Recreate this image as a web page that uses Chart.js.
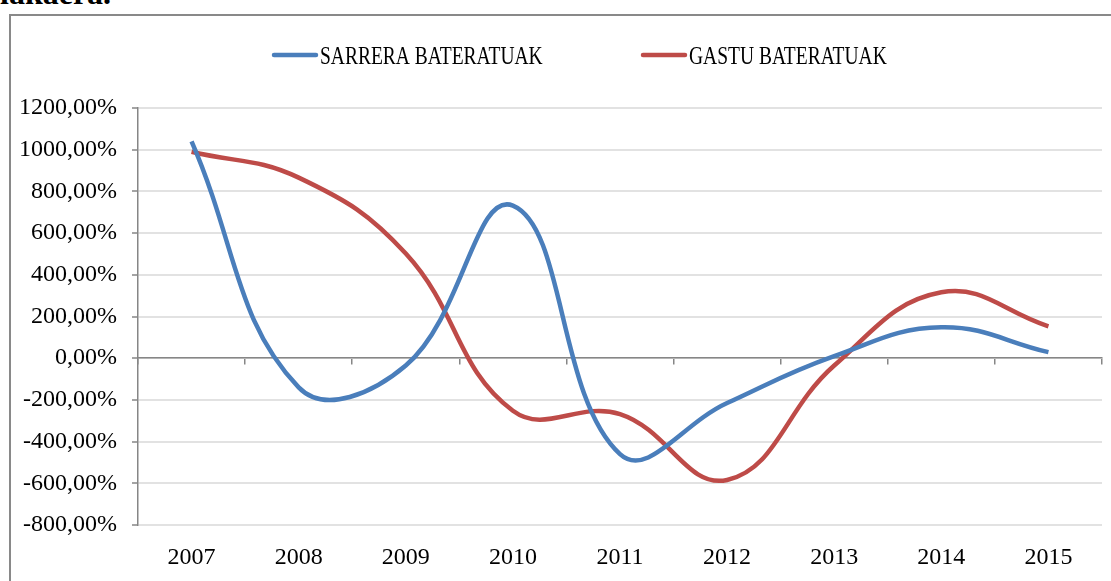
<!DOCTYPE html>
<html>
<head>
<meta charset="utf-8">
<script src="https://cdn.jsdelivr.net/npm/chart.js@4/dist/chart.umd.min.js"></script>
<style>
  html, body { margin: 0; padding: 0; background: #fff; overflow: hidden; }
  #wrap { position: relative; width: 1111px; height: 581px; }
  #above { position: absolute; left: 0; top: -23px; font: bold 32px/32px "Liberation Serif", serif; color: #000; }
  #frame { position: absolute; left: 9px; top: 14px; width: 1300px; height: 800px; border: 2px solid #898989; }
  #canvas { position: absolute; left: 0; top: 0; }
</style>
</head>
<body>
<div id="wrap">
  <div id="above">lakaera.</div>
  <div id="frame"></div>
  <canvas id="canvas" width="1111" height="581"></canvas>
</div>
<script>
// urteak eta serieak
var years = ['2007', '2008', '2009', '2010', '2011', '2012', '2013', '2014', '2015'];
var sarrera = [1040, -140, -35, 732, -460, -215, 10, 148, 29];
var gastu = [990, 866, 502, -252, -268, -584, -35, 316, 153];
var seriesNames = ['SARRERA BATERATUAK', 'GASTU BATERATUAK'];
var yTickValues = [-800, -600, -400, -200, 0, 200, 400, 600, 800, 1000, 1200];

var blue = '#4a7ebb';
var red = '#be4b48';
var tickFont = { family: 'Liberation Serif', size: 24 };

// legenda goian, eskuz marraztua
var topLegend = {
	id: 'topLegend',
	afterDraw: function(chart) {
		var ctx = chart.ctx;
		var starts = [272, 641];
		ctx.save();
		chart.data.datasets.forEach(function(ds, i) {
			var x = starts[i];
			ctx.strokeStyle = ds.borderColor;
			ctx.lineWidth = 4.5;
			ctx.lineCap = 'round';
			ctx.beginPath();
			ctx.moveTo(x + 2, 55);
			ctx.lineTo(x + 44, 55);
			ctx.stroke();

			ctx.save();
			ctx.translate(x + 48, 64);
			ctx.scale(0.75, 1);
			ctx.fillStyle = '#000';
			ctx.font = '26px "Liberation Serif"';
			ctx.textBaseline = 'alphabetic';
			ctx.fillText(ds.label, 0, 0);
			ctx.restore();
		});
		ctx.restore();
	}
};

var ctx = document.getElementById('canvas').getContext('2d');

var chart = new Chart(ctx, {
	type: 'line',
	data: {
		labels: years,
		datasets: [
			{
				label: seriesNames[0],
				data: sarrera,
				borderColor: blue,
				backgroundColor: blue,
				borderWidth: 4.5,
				pointRadius: 0,
				tension: 0.42,
				fill: false
			},
			{
				label: seriesNames[1],
				data: gastu,
				borderColor: red,
				backgroundColor: red,
				borderWidth: 4.5,
				pointRadius: 0,
				tension: 0.42,
				fill: false
			}
		]
	},
	options: {
		responsive: false,
		animation: false,
		devicePixelRatio: 1,
		layout: { padding: { left: 10, top: 108, right: 9, bottom: 0 } },
		plugins: {
			legend: { display: false },
			tooltip: { enabled: false }
		},
		scales: {
			x: {
				type: 'category',
				position: 'bottom',
				offset: true,
				grid: { display: false },
				border: { display: false },
				ticks: { font: tickFont, color: '#000', padding: 10, maxRotation: 0 },
				afterFit: function(s) { s.height = 56; }
			},
			x2: {
				type: 'category',
				axis: 'x',
				position: { y: 0 },
				offset: true,
				grid: { offset: true, drawOnChartArea: false, drawTicks: true, tickLength: 6, color: '#868686', lineWidth: 1.5 },
				border: { display: true, color: '#868686', width: 1.5 },
				ticks: { display: false }
			},
			y: {
				type: 'linear',
				min: yTickValues[0],
				max: yTickValues[yTickValues.length - 1],
				afterBuildTicks: function(s) {
					s.ticks = yTickValues.map(function(v) { return { value: v }; });
				},
				grid: { color: '#e2e2e2', lineWidth: 2, tickColor: '#868686', tickLength: 6, tickWidth: 1.5 },
				border: { display: true, color: '#868686', width: 1.5 },
				ticks: {
					font: tickFont,
					color: '#000',
					padding: 15,
					callback: function(v) { return v + ',00%'; }
				},
				afterFit: function(s) { s.width = 128; }
			}
		}
	},
	plugins: [topLegend]
});
</script>
</body>
</html>
